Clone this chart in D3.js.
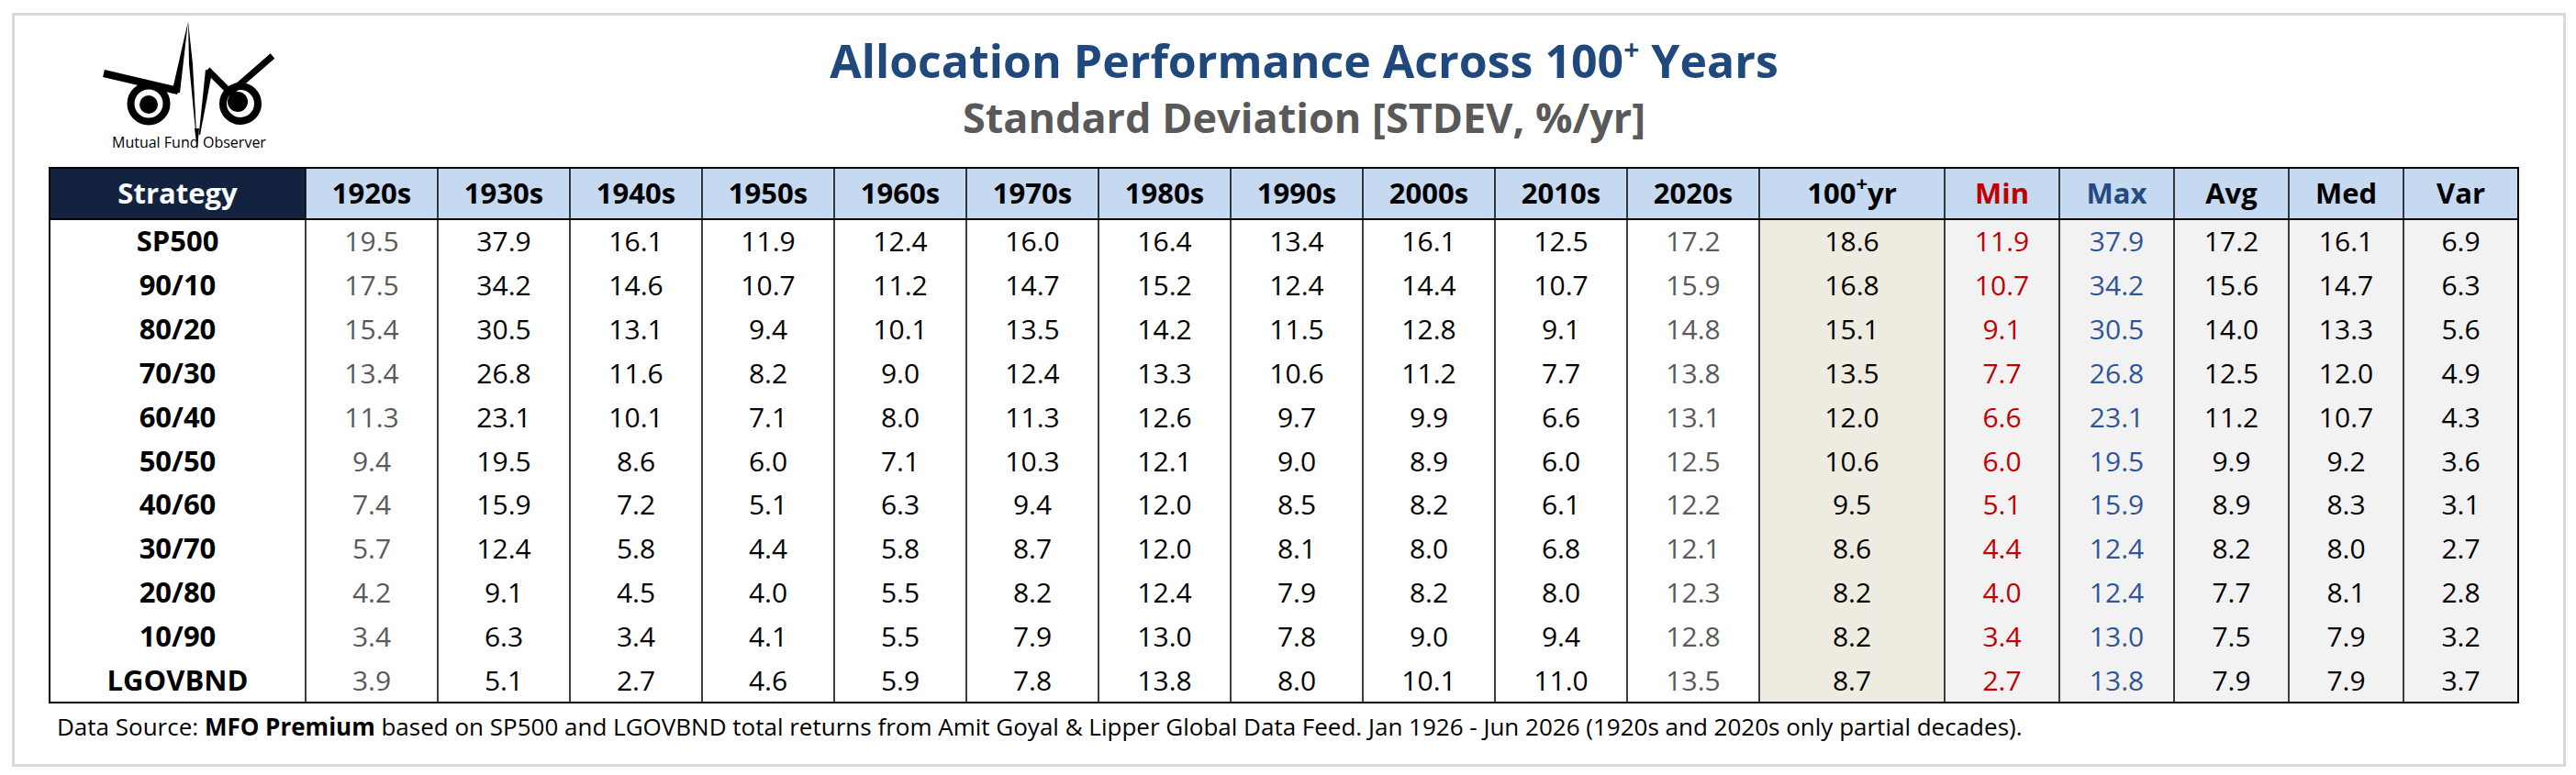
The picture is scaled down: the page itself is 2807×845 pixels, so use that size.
<!DOCTYPE html>
<html>
<head>
<meta charset="utf-8">
<script src="https://cdn.jsdelivr.net/npm/d3@7"></script>
<style>
  body { margin: 0; background: #fff; }
  svg text { font-family: "Open Sans", "Noto Sans", sans-serif; }
</style>
</head>
<body>
<div id="chart"></div>
<script>
// table data
var strategies = ["SP500", "90/10", "80/20", "70/30", "60/40", "50/50", "40/60", "30/70", "20/80", "10/90", "LGOVBND"];
var decades = ["1920s", "1930s", "1940s", "1950s", "1960s", "1970s", "1980s", "1990s", "2000s", "2010s", "2020s"];
var partialDecades = ["1920s", "2020s"];

// rows follow strategies, columns follow decades
var decadeValues = [
  [19.5, 37.9, 16.1, 11.9, 12.4, 16.0, 16.4, 13.4, 16.1, 12.5, 17.2],
  [17.5, 34.2, 14.6, 10.7, 11.2, 14.7, 15.2, 12.4, 14.4, 10.7, 15.9],
  [15.4, 30.5, 13.1, 9.4, 10.1, 13.5, 14.2, 11.5, 12.8, 9.1, 14.8],
  [13.4, 26.8, 11.6, 8.2, 9.0, 12.4, 13.3, 10.6, 11.2, 7.7, 13.8],
  [11.3, 23.1, 10.1, 7.1, 8.0, 11.3, 12.6, 9.7, 9.9, 6.6, 13.1],
  [9.4, 19.5, 8.6, 6.0, 7.1, 10.3, 12.1, 9.0, 8.9, 6.0, 12.5],
  [7.4, 15.9, 7.2, 5.1, 6.3, 9.4, 12.0, 8.5, 8.2, 6.1, 12.2],
  [5.7, 12.4, 5.8, 4.4, 5.8, 8.7, 12.0, 8.1, 8.0, 6.8, 12.1],
  [4.2, 9.1, 4.5, 4.0, 5.5, 8.2, 12.4, 7.9, 8.2, 8.0, 12.3],
  [3.4, 6.3, 3.4, 4.1, 5.5, 7.9, 13.0, 7.8, 9.0, 9.4, 12.8],
  [3.9, 5.1, 2.7, 4.6, 5.9, 7.8, 13.8, 8.0, 10.1, 11.0, 13.5]
];
var centuryValues = [18.6, 16.8, 15.1, 13.5, 12.0, 10.6, 9.5, 8.6, 8.2, 8.2, 8.7];
var minValues = [11.9, 10.7, 9.1, 7.7, 6.6, 6.0, 5.1, 4.4, 4.0, 3.4, 2.7];
var maxValues = [37.9, 34.2, 30.5, 26.8, 23.1, 19.5, 15.9, 12.4, 12.4, 13.0, 13.8];
var avgValues = [17.2, 15.6, 14.0, 12.5, 11.2, 9.9, 8.9, 8.2, 7.7, 7.5, 7.9];
var medValues = [16.1, 14.7, 13.3, 12.0, 10.7, 9.2, 8.3, 8.0, 8.1, 7.9, 7.9];
var varValues = [6.9, 6.3, 5.6, 4.9, 4.3, 3.6, 3.1, 2.7, 2.8, 3.2, 3.7];

var statLabels = ["Min", "Max", "Avg", "Med", "Var"];
var statSeries = [minValues, maxValues, avgValues, medValues, varValues];

var svgwidth = 2807;
var svgheight = 845;

var svg = d3.select("#chart")
  .append("svg")
  .attr("width", svgwidth)
  .attr("height", svgheight);

// outer frame
svg.append("rect")
  .attr("x", 14.5).attr("y", 15.5)
  .attr("width", 2780).attr("height", 819)
  .attr("fill", "#fff")
  .attr("stroke", "#d9d9d9")
  .attr("stroke-width", 3);

// build column list
var columns = [{key: "Strategy", type: "label", w: 279}];
decades.forEach(function(d, i) {
  columns.push({key: d, type: "decade", w: 144, values: decadeValues.map(function(r) { return r[i]; })});
});
columns.push({key: "100+yr", type: "century", w: 202, values: centuryValues});
statLabels.forEach(function(s, i) {
  columns.push({key: s, type: "stat", w: 125, values: statSeries[i]});
});

var tableLeft = 54;
var acc = tableLeft;
columns.forEach(function(c) { c.x0 = acc; acc += c.w; c.x1 = acc; });
var tableRight = acc;

var headerTop = 183, headerBottom = 239, tableBottom = 766;

var yscale = d3.scaleBand()
  .domain(strategies)
  .range([headerBottom, tableBottom]);

var xscale = d3.scaleOrdinal()
  .domain(columns.map(function(c) { return c.key; }))
  .range(columns.map(function(c) { return (c.x0 + c.x1) / 2; }));

// column backgrounds
var bodyFill = {label: "#ffffff", decade: "#ffffff", century: "#eeece1", stat: "#f2f2f2"};
svg.append("g").selectAll("rect")
  .data(columns)
  .enter()
  .append("rect")
  .attr("x", function(c) { return c.x0; })
  .attr("y", headerBottom)
  .attr("width", function(c) { return c.w; })
  .attr("height", tableBottom - headerBottom)
  .attr("fill", function(c) { return bodyFill[c.type]; });

// header cells
svg.append("g").selectAll("rect")
  .data(columns)
  .enter()
  .append("rect")
  .attr("x", function(c) { return c.x0; })
  .attr("y", headerTop)
  .attr("width", function(c) { return c.w; })
  .attr("height", headerBottom - headerTop)
  .attr("fill", function(c) { return c.type == "label" ? "#13233f" : "#c5d9f1"; });

var headColor = {Strategy: "#ffffff", Min: "#c00000", Max: "#234b7f"};
var headText = svg.append("g").selectAll("text")
  .data(columns)
  .enter()
  .append("text")
  .attr("x", function(c) { return xscale(c.key); })
  .attr("y", (headerTop + headerBottom) / 2 + 11)
  .attr("text-anchor", "middle")
  .attr("font-size", 31)
  .attr("font-weight", "bold")
  .attr("fill", function(c) { return headColor[c.key] || "#000"; });

headText.each(function(c) {
  var t = d3.select(this);
  if (c.key == "100+yr") {
    t.append("tspan").text("100");
    t.append("tspan").attr("dy", -14).attr("font-size", 22).text("+");
    t.append("tspan").attr("dy", 14).text("yr");
  } else {
    t.text(c.key);
  }
});

// row labels
svg.append("g").selectAll("text")
  .data(strategies)
  .enter()
  .append("text")
  .attr("x", xscale("Strategy"))
  .attr("y", function(d) { return yscale(d) + yscale.bandwidth() / 2 + 11; })
  .attr("text-anchor", "middle")
  .attr("font-size", 31)
  .attr("font-weight", "bold")
  .attr("fill", "#000")
  .text(function(d) { return d; });

// cell values
function cellColor(c) {
  if (partialDecades.indexOf(c.key) >= 0) return "#595959";
  if (c.key == "Min") return "#c00000";
  if (c.key == "Max") return "#2f5597";
  return "#000";
}

var valueCols = columns.filter(function(c) { return c.type != "label"; });
var colGroups = svg.append("g").selectAll("g")
  .data(valueCols)
  .enter()
  .append("g");

colGroups.selectAll("text")
  .data(function(c) { return c.values.map(function(v, i) { return {col: c, v: v, row: strategies[i]}; }); })
  .enter()
  .append("text")
  .attr("x", function(d) { return xscale(d.col.key); })
  .attr("y", function(d) { return yscale(d.row) + yscale.bandwidth() / 2 + 11; })
  .attr("text-anchor", "middle")
  .attr("font-size", 30)
  .attr("fill", function(d) { return cellColor(d.col); })
  .text(function(d) { return d3.format(".1f")(d.v); });

// grid lines
var grid = svg.append("g").attr("stroke", "#000");
grid.selectAll("line")
  .data(columns.slice(1))
  .enter()
  .append("line")
  .attr("x1", function(c) { return c.x0; })
  .attr("x2", function(c) { return c.x0; })
  .attr("y1", headerTop)
  .attr("y2", tableBottom)
  .attr("stroke-width", 1.5);

grid.append("line")
  .attr("x1", tableLeft).attr("x2", tableRight)
  .attr("y1", headerBottom).attr("y2", headerBottom)
  .attr("stroke-width", 2);

grid.append("rect")
  .attr("x", tableLeft).attr("y", headerTop)
  .attr("width", tableRight - tableLeft)
  .attr("height", tableBottom - headerTop)
  .attr("fill", "none")
  .attr("stroke-width", 2);

// titles
var title = svg.append("text")
  .attr("x", 1421).attr("y", 85)
  .attr("text-anchor", "middle")
  .attr("font-size", 50)
  .attr("font-weight", "bold")
  .attr("fill", "#1f497d");
title.append("tspan").text("Allocation Performance Across 100");
title.append("tspan").attr("dy", -20).attr("font-size", 30).text("+");
title.append("tspan").attr("dy", 20).text(" Years");

svg.append("text")
  .attr("x", 1421).attr("y", 145)
  .attr("text-anchor", "middle")
  .attr("font-size", 45)
  .attr("font-weight", "bold")
  .attr("fill", "#595959")
  .text("Standard Deviation [STDEV, %/yr]");

// footnote
var foot = svg.append("text")
  .attr("x", 62).attr("y", 802)
  .attr("font-size", 26)
  .attr("fill", "#000");
foot.append("tspan").text("Data Source: ");
foot.append("tspan").attr("font-weight", "bold").text("MFO Premium");
foot.append("tspan").text(" based on SP500 and LGOVBND total returns from Amit Goyal & Lipper Global Data Feed. Jan 1926 - Jun 2026 (1920s and 2020s only partial decades).");

// logo (owl eyes + heartbeat line)
var logo = svg.append("g").attr("fill", "#000");
logo.append("line")
  .attr("x1", 113).attr("y1", 80).attr("x2", 194).attr("y2", 99)
  .attr("stroke", "#000").attr("stroke-width", 8);
logo.append("circle").attr("cx", 162).attr("cy", 113).attr("r", 19.5)
  .attr("fill", "#fff").attr("stroke", "#000").attr("stroke-width", 8);
logo.append("circle").attr("cx", 162).attr("cy", 114).attr("r", 10);
logo.append("circle").attr("cx", 262).attr("cy", 113).attr("r", 19)
  .attr("fill", "#fff").attr("stroke", "#000").attr("stroke-width", 8);
logo.append("circle").attr("cx", 259).attr("cy", 111).attr("r", 11);
// tapered spikes
logo.append("polygon").attr("points", "187,102 196,101 205,23");
logo.append("polygon").attr("points", "205,23 210,70 215,163 206,70");
logo.append("polygon").attr("points", "215,163 224,76 231,79");
logo.append("polyline")
  .attr("points", "226,76 251,101 297,61")
  .attr("fill", "none")
  .attr("stroke", "#000")
  .attr("stroke-width", 7)
  .attr("stroke-linejoin", "miter");
logo.append("rect").attr("x", 120).attr("y", 147).attr("width", 176).attr("height", 18).attr("fill", "#fff");
logo.append("polygon").attr("points", "212,140 217,140 215,163");
logo.append("text")
  .attr("x", 122).attr("y", 161)
  .attr("font-family", "Lato, sans-serif")
  .attr("font-size", 16)
  .text("Mutual Fund");
logo.append("text")
  .attr("x", 221).attr("y", 161)
  .attr("font-family", "Lato, sans-serif")
  .attr("font-size", 16)
  .text("Observer");
</script>
</body>
</html>
